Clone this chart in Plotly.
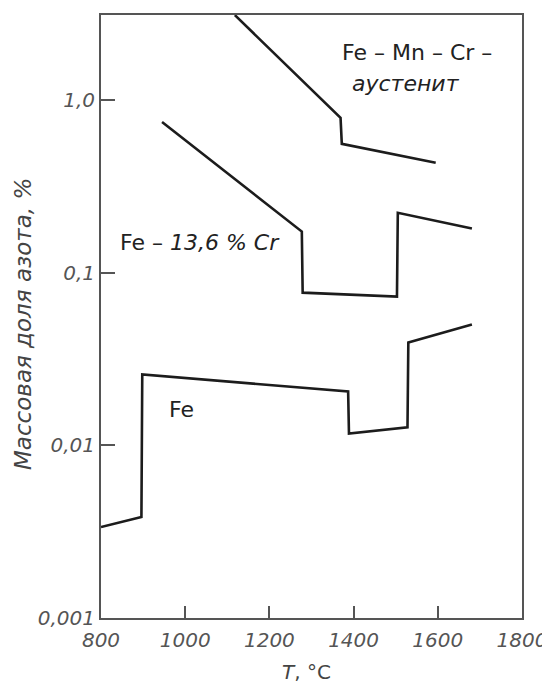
import plotly.graph_objects as go

# Data (T in °C, nitrogen mass fraction in %)
fe_mn_cr_T = [1118, 1369, 1372, 1595]
fe_mn_cr_N = [3.10, 0.787, 0.557, 0.433]

fe_cr_T = [945, 1277, 1279, 1503, 1505, 1681]
fe_cr_N = [0.746, 0.173, 0.0766, 0.0727, 0.222, 0.18]

fe_T = [800, 896, 898, 1387, 1389, 1528, 1530, 1681]
fe_N = [0.00336, 0.00384, 0.0257, 0.0205, 0.0117, 0.0127, 0.0394, 0.050]

x_tickvals = [800, 1000, 1200, 1400, 1600, 1800]
x_ticktext = ["800", "1000", "1200", "1400", "1600", "1800"]
y_tickvals = [0.001, 0.01, 0.1, 1.0]
y_ticktext = ["0,001", "0,01", "0,1", "1,0"]

line_color = "#1c1c1c"
font_family = "DejaVu Sans, Liberation Sans, sans-serif"

fig = go.Figure()
for T, N in [(fe_mn_cr_T, fe_mn_cr_N), (fe_cr_T, fe_cr_N), (fe_T, fe_N)]:
    fig.add_trace(go.Scatter(x=T, y=N, mode="lines",
                             line=dict(color=line_color, width=2.6),
                             showlegend=False, hoverinfo="skip"))

ann_font = dict(family=font_family, size=22, color="#222")
fig.add_annotation(x=1551, y=0.272, xref="x", yref="y", text="Fe – Mn – Cr –",
                   showarrow=False, font=ann_font)
fig.add_annotation(x=1524, y=0.098, xref="x", yref="y", text="<i>аустенит</i>",
                   showarrow=False, font=ann_font)
fig.add_annotation(x=1035, y=-0.828, xref="x", yref="y", text="Fe – <i>13,6 % Cr</i>",
                   showarrow=False, font=ann_font)
fig.add_annotation(x=992, y=-1.792, xref="x", yref="y", text="Fe",
                   showarrow=False, font=ann_font)

# axis titles
fig.add_annotation(x=0, y=0.4876, xref="paper", yref="paper", xshift=-78,
                   text="<i>Массовая доля азота, %</i>", textangle=-90,
                   showarrow=False, xanchor="center", yanchor="middle",
                   font=dict(family=font_family, size=23, color="#444"))
fig.add_annotation(x=0.489, y=0, xref="paper", yref="paper", yshift=-54,
                   text="<i>T</i>, °C", showarrow=False,
                   xanchor="center", yanchor="middle",
                   font=dict(family=font_family, size=20, color="#444"))

fig.update_xaxes(range=[800, 1800], tickvals=x_tickvals,
                 ticktext=["<i>%s</i>" % t for t in x_ticktext],
                 ticks="inside", ticklen=12, tickwidth=1.5, tickcolor="#555",
                 showline=True, linecolor="#555", linewidth=2, mirror=True,
                 showgrid=False, zeroline=False, automargin=False,
                 ticklabelstandoff=3,
                 tickfont=dict(family=font_family, size=20, color="#555"))
fig.update_yaxes(type="log", range=[-3, 0.492], tickvals=y_tickvals,
                 ticktext=["<i>%s</i>" % t for t in y_ticktext],
                 ticks="inside", ticklen=14, tickwidth=1.5, tickcolor="#555",
                 showline=True, linecolor="#555", linewidth=2, mirror=True,
                 showgrid=False, zeroline=False, automargin=False,
                 tickfont=dict(family=font_family, size=20, color="#555"))

# page body has an 8px margin, so the figure is offset by 8px
fig.update_layout(width=542, height=680,
                  margin=dict(l=93, r=28, t=7, b=70),
                  paper_bgcolor="white", plot_bgcolor="white")

fig.write_html("out.html")
